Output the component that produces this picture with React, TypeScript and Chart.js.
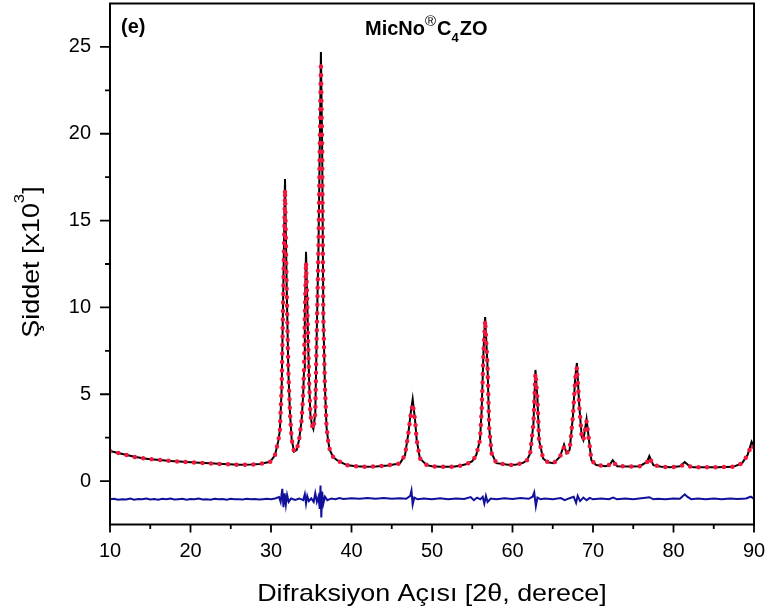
import React, { useEffect, useRef } from 'react';
import { Chart, registerables } from 'chart.js';

Chart.register(...registerables);

// 2θ (degree) vs intensity (x10^3)
const observed: [number, number][] = [
  [10, 1.73], [11, 1.62], [12.1, 1.5], [13, 1.4], [14.1, 1.31], [15, 1.26], [16.2, 1.21], [17.5, 1.16],
  [19.1, 1.11], [20.5, 1.07], [22.4, 1.02], [24, 0.98], [26.1, 0.94], [27.5, 0.95], [28.6, 0.98], [29.9, 1.11],
  [30.5, 1.5], [30.9, 2.3], [31.1, 2.9], [31.33, 5.4], [31.53, 11.2], [31.74, 17.4], [31.95, 11.2], [32.15, 6.4],
  [32.36, 3.9], [32.57, 2.4], [32.86, 1.7], [33.2, 1.8], [33.5, 2.4], [33.8, 3.5], [34.0, 5.0], [34.1, 6.4],
  [34.2, 9.5], [34.35, 13.2], [34.5, 10.5], [34.6, 8.2], [34.75, 5.5], [34.9, 3.8], [35.1, 3.2], [35.26, 3.0],
  [35.5, 3.9], [35.7, 8.9], [35.9, 13.5], [36.05, 19.0], [36.2, 24.7], [36.35, 19.5], [36.5, 9.5], [36.7, 5.4],
  [36.9, 3.1], [37.1, 2.3], [37.3, 1.8], [37.7, 1.4], [38.2, 1.2], [39.4, 0.92], [40.5, 0.86], [41.9, 0.82],
  [43, 0.84], [44.5, 0.9], [45.6, 0.98], [46.02, 1.02], [46.65, 1.5], [47.06, 2.75], [47.35, 3.9], [47.6, 4.72],
  [47.9, 3.5], [48.1, 2.36], [48.5, 1.3], [49.35, 0.92], [50, 0.86], [51, 0.82], [52.6, 0.82], [53.5, 0.88],
  [54.3, 0.98], [55, 1.15], [55.5, 1.5], [55.96, 2.36], [56.17, 4.1], [56.4, 7.5], [56.6, 9.45], [56.9, 6.6],
  [57.1, 3.1], [57.4, 1.6], [58, 1.03], [59.7, 0.92], [60.5, 0.95], [61.3, 1.05], [61.8, 1.2], [62.2, 1.6],
  [62.6, 3.3], [62.85, 6.4], [63.1, 4.7], [63.3, 2.36], [63.8, 1.3], [64.4, 1.08], [65.1, 1.03], [65.9, 1.4],
  [66.4, 2.1], [66.7, 1.6], [67.1, 1.8], [67.5, 3.7], [67.8, 6.0], [68.0, 6.8], [68.3, 4.3], [68.6, 2.55],
  [68.8, 2.36], [69.2, 3.57], [69.5, 2.36], [69.8, 1.2], [70.4, 0.92], [71.6, 0.86], [72.1, 0.95], [72.45, 1.2],
  [73, 0.86], [74.5, 0.84], [75.8, 0.86], [76.7, 1.1], [77, 1.44], [77.5, 0.92], [78.5, 0.82], [79.6, 0.79],
  [80.8, 0.85], [81.4, 1.1], [82, 0.85], [82.5, 0.79], [84, 0.8], [85.5, 0.8], [87.4, 0.82], [88.5, 1.02],
  [89.2, 1.5], [89.7, 2.26], [90, 1.97],
];

const calculated: [number, number][] = [
  [10, 1.73], [11, 1.62], [12.1, 1.5], [13, 1.4], [14.1, 1.31], [15, 1.26], [16.2, 1.21], [17.5, 1.16],
  [19.1, 1.11], [20.5, 1.07], [22.4, 1.02], [24, 0.98], [26.1, 0.94], [27.5, 0.95], [28.6, 0.98], [29.9, 1.11],
  [30.5, 1.5], [30.9, 2.3], [31.1, 2.9], [31.33, 5.4], [31.53, 11.0], [31.74, 16.8], [31.95, 11.0], [32.15, 6.4],
  [32.36, 3.9], [32.57, 2.4], [32.86, 1.7], [33.2, 1.8], [33.5, 2.4], [33.8, 3.5], [34.0, 5.0], [34.1, 6.4],
  [34.2, 9.4], [34.35, 12.6], [34.5, 10.4], [34.6, 8.2], [34.75, 5.5], [34.9, 3.8], [35.1, 3.2], [35.26, 3.0],
  [35.5, 3.9], [35.7, 8.9], [35.9, 13.5], [36.05, 18.9], [36.2, 24.1], [36.35, 19.4], [36.5, 9.5], [36.7, 5.4],
  [36.9, 3.1], [37.1, 2.3], [37.3, 1.8], [37.7, 1.4], [38.2, 1.2], [39.4, 0.92], [40.5, 0.86], [41.9, 0.82],
  [43, 0.84], [44.5, 0.9], [45.6, 0.98], [46.02, 1.02], [46.65, 1.5], [47.06, 2.75], [47.35, 3.8], [47.6, 4.45],
  [47.9, 3.5], [48.1, 2.36], [48.5, 1.3], [49.35, 0.92], [50, 0.86], [51, 0.82], [52.6, 0.82], [53.5, 0.88],
  [54.3, 0.98], [55, 1.15], [55.5, 1.5], [55.96, 2.36], [56.17, 4.1], [56.4, 7.4], [56.6, 9.25], [56.9, 6.6],
  [57.1, 3.1], [57.4, 1.6], [58, 1.03], [59.7, 0.92], [60.5, 0.95], [61.3, 1.05], [61.8, 1.2], [62.2, 1.6],
  [62.6, 3.3], [62.85, 6.2], [63.1, 4.7], [63.3, 2.36], [63.8, 1.3], [64.4, 1.08], [65.1, 1.03], [65.9, 1.4],
  [66.4, 1.95], [66.7, 1.6], [67.1, 1.8], [67.5, 3.7], [67.8, 5.9], [68.0, 6.55], [68.3, 4.3], [68.6, 2.55],
  [68.8, 2.36], [69.2, 3.45], [69.5, 2.36], [69.8, 1.2], [70.4, 0.92], [71.6, 0.86], [72.1, 0.95], [72.45, 1.12],
  [73, 0.86], [74.5, 0.84], [75.8, 0.86], [76.7, 1.08], [77, 1.35], [77.5, 0.92], [78.5, 0.82], [79.6, 0.79],
  [80.8, 0.85], [81.4, 0.95], [82, 0.85], [82.5, 0.79], [84, 0.8], [85.5, 0.8], [87.4, 0.82], [88.5, 1.02],
  [89.2, 1.5], [89.7, 2.1], [90, 1.9],
];

const difference: [number, number][] = [
  [10, -1.05], [10.5, -1.02], [11, -1.08], [11.5, -1.04], [12, -1.06], [12.5, -1.01], [13, -1.07], [13.5, -1.03],
  [14, -1.05], [14.5, -1.0], [15, -1.06], [15.5, -1.03], [16, -1.07], [16.5, -1.02], [17, -1.05], [17.5, -1.01],
  [18, -1.06], [18.5, -1.04], [19, -1.02], [19.5, -1.07], [20, -1.03], [20.5, -1.05], [21, -1.0], [21.5, -1.06],
  [22, -1.04], [22.5, -1.07], [23, -1.02], [23.5, -1.05], [24, -1.03], [24.5, -1.07], [25, -1.02], [25.5, -1.05],
  [26, -1.04], [26.5, -1.06], [27, -1.02], [27.5, -1.05], [28, -1.03], [28.5, -1.06], [29, -1.04], [29.5, -1.02],
  [30, -1.05], [30.5, -1.0], [31, -0.92], [31.2, -1.2], [31.4, -0.45], [31.55, -1.5], [31.7, -0.7], [31.85, -1.35],
  [32.0, -0.8], [32.2, -1.2], [32.5, -1.0], [33, -1.08], [33.5, -1.0], [34.0, -1.1], [34.2, -0.75], [34.35, -1.3],
  [34.5, -0.85], [34.7, -1.15], [35.0, -1.0], [35.3, -1.2], [35.5, -0.7], [35.7, -1.2], [35.9, -0.9], [36.05, -1.6],
  [36.15, -0.25], [36.25, -2.1], [36.35, -0.6], [36.5, -1.3], [36.7, -0.9], [37.0, -1.1], [37.5, -1.0], [38, -1.04],
  [38.5, -0.98], [39, -1.03], [40, -0.99], [41, -1.02], [42, -0.97], [43, -1.01], [44, -0.98], [45, -1.02],
  [46, -0.99], [46.8, -1.02], [47.3, -0.85], [47.45, -0.55], [47.6, -1.35], [47.8, -0.95], [48.2, -1.05], [49, -1.0],
  [50, -1.04], [51, -0.99], [52, -1.05], [53, -1.0], [54, -1.03], [54.8, -0.92], [55.2, -1.1], [55.6, -0.95],
  [56.0, -1.05], [56.3, -0.9], [56.5, -1.3], [56.7, -0.85], [56.9, -1.2], [57.3, -1.0], [58, -1.04], [59, -0.99],
  [60, -1.03], [61, -0.98], [62, -1.02], [62.5, -0.9], [62.7, -0.65], [62.9, -1.45], [63.1, -0.95], [63.5, -1.05],
  [64, -1.0], [65, -1.04], [66, -0.98], [66.5, -1.1], [67, -1.0], [67.6, -0.9], [67.9, -1.25], [68.1, -0.85],
  [68.4, -1.15], [68.8, -0.95], [69.2, -1.1], [69.6, -0.97], [70, -1.05], [71, -1.0], [72, -1.04], [72.5, -0.95],
  [73, -1.05], [74, -1.0], [75, -1.04], [76, -0.99], [77, -0.93], [77.5, -1.05], [78, -1.02], [79, -1.05],
  [80, -1.0], [80.8, -1.02], [81.2, -0.85], [81.4, -0.76], [81.7, -0.9], [82.2, -1.04], [83, -1.0], [84, -1.05],
  [85, -1.01], [86, -1.04], [87, -1.0], [88, -1.03], [89, -1.0], [89.6, -0.9], [90, -1.02],
];

const xMajorTicks = [10, 20, 30, 40, 50, 60, 70, 80, 90];
const xMinorTicks = [15, 25, 35, 45, 55, 65, 75, 85];
const yMajorTicks = [0, 5, 10, 15, 20, 25];
const yMinorTicks = [2.5, 7.5, 12.5, 17.5, 22.5];

const panelLabel = '(e)';
const sampleName = ['MicNo', '®', 'C', '4', 'ZO'];
const xTitle = 'Difraksiyon Açısı [2θ, derece]';
const yTitle = ['Şiddet [x10', '3', ']'];

const FAMILY = "'Liberation Sans', Arial, sans-serif";

const framePlugin = {
  id: 'framePlugin',
  afterDraw(chart: any) {
    const { ctx, chartArea, scales } = chart;
    const { left, right, top, bottom } = chartArea;
    const xs = scales.x;
    const ys = scales.y;
    ctx.save();
    ctx.strokeStyle = '#000';
    ctx.lineWidth = 2;
    ctx.strokeRect(left, top, right - left, bottom - top);

    ctx.lineWidth = 1.8;
    ctx.beginPath();
    for (const v of xMajorTicks) {
      const px = xs.getPixelForValue(v);
      ctx.moveTo(px, bottom);
      ctx.lineTo(px, bottom + 8);
    }
    for (const v of xMinorTicks) {
      const px = xs.getPixelForValue(v);
      ctx.moveTo(px, bottom);
      ctx.lineTo(px, bottom + 4.5);
    }
    for (const v of yMajorTicks) {
      const py = ys.getPixelForValue(v);
      ctx.moveTo(left, py);
      ctx.lineTo(left - 10, py);
    }
    for (const v of yMinorTicks) {
      const py = ys.getPixelForValue(v);
      ctx.moveTo(left, py);
      ctx.lineTo(left - 5, py);
    }
    ctx.stroke();

    ctx.fillStyle = '#000';
    ctx.textAlign = 'left';
    ctx.textBaseline = 'alphabetic';

    // panel label
    ctx.font = `bold 20px ${FAMILY}`;
    ctx.fillText(panelLabel, left + 11, 33);

    // sample name with superscript/subscript
    let cx = 365;
    ctx.font = `bold 20px ${FAMILY}`;
    ctx.fillText(sampleName[0], cx, 35);
    cx += ctx.measureText(sampleName[0]).width;
    ctx.font = `15px ${FAMILY}`;
    ctx.fillText(sampleName[1], cx, 25.5);
    cx += ctx.measureText(sampleName[1]).width + 1;
    ctx.font = `bold 20px ${FAMILY}`;
    ctx.fillText(sampleName[2], cx, 35);
    cx += ctx.measureText(sampleName[2]).width;
    ctx.font = `bold 13px ${FAMILY}`;
    ctx.fillText(sampleName[3], cx, 41.5);
    cx += ctx.measureText(sampleName[3]).width + 1;
    ctx.font = `bold 20px ${FAMILY}`;
    ctx.fillText(sampleName[4], cx, 35);

    // x title
    ctx.save();
    ctx.translate((left + right) / 2, 601);
    ctx.scale(1.12, 1);
    ctx.font = `24px ${FAMILY}`;
    ctx.textAlign = 'center';
    ctx.fillText(xTitle, 0, 0);
    ctx.restore();

    // y title
    ctx.save();
    ctx.translate(39, (top + bottom) / 2 - 2);
    ctx.rotate(-Math.PI / 2);
    ctx.scale(1.12, 1);
    ctx.font = `24px ${FAMILY}`;
    const w1 = ctx.measureText(yTitle[0]).width;
    const w3 = ctx.measureText(yTitle[2]).width;
    ctx.font = `15px ${FAMILY}`;
    const w2 = ctx.measureText(yTitle[1]).width;
    let sx = -(w1 + w2 + w3) / 2;
    ctx.font = `24px ${FAMILY}`;
    ctx.fillText(yTitle[0], sx, 0);
    sx += w1;
    ctx.font = `15px ${FAMILY}`;
    ctx.fillText(yTitle[1], sx, -15);
    sx += w2;
    ctx.font = `24px ${FAMILY}`;
    ctx.fillText(yTitle[2], sx, 0);
    ctx.restore();

    ctx.restore();
  },
};

export default function App() {
  const ref = useRef<HTMLCanvasElement>(null);

  useEffect(() => {
    document.body.style.margin = '0';
    const canvas = ref.current;
    if (!canvas) return;
    const toXY = (arr: [number, number][]) => arr.map(([x, y]) => ({ x, y }));
    const chart = new Chart(canvas, {
      type: 'line',
      data: {
        datasets: [
          {
            label: 'Hesaplanan',
            data: toXY(calculated),
            borderColor: '#f2163c',
            borderWidth: 4.5,
            borderDash: [0, 8.5],
            borderCapStyle: 'round',
            pointRadius: 0,
            fill: false,
            tension: 0,
            order: 0,
          },
          {
            label: 'Gözlenen',
            data: toXY(observed),
            borderColor: '#000000',
            borderWidth: 2,
            pointRadius: 0,
            fill: false,
            tension: 0,
            order: 1,
          },
          {
            label: 'Fark',
            data: toXY(difference),
            borderColor: '#10109c',
            borderWidth: 2,
            pointRadius: 0,
            fill: false,
            tension: 0,
            order: 2,
          },
        ],
      },
      options: {
        responsive: false,
        animation: false,
        events: [],
        layout: { padding: { top: 3.5, right: 15, left: 0, bottom: 0 } },
        plugins: {
          legend: { display: false },
          tooltip: { enabled: false },
        },
        scales: {
          x: {
            type: 'linear',
            min: 10,
            max: 90,
            afterFit: (s: any) => {
              s.height = 91.5;
              s.paddingLeft = 0;
              s.paddingRight = 0;
              s.paddingTop = 0;
              s.paddingBottom = 0;
            },
            afterBuildTicks: (s: any) => {
              s.ticks = xMajorTicks.map((v) => ({ value: v }));
            },
            grid: { display: false, drawTicks: false },
            border: { display: false },
            ticks: {
              padding: 14.5,
              color: '#000',
              maxRotation: 0,
              autoSkip: false,
              font: { family: FAMILY, size: 20 },
            },
          },
          y: {
            type: 'linear',
            min: -2.5,
            max: 27.5,
            afterFit: (s: any) => {
              s.width = 110;
              s.paddingLeft = 0;
              s.paddingRight = 0;
              s.paddingTop = 0;
              s.paddingBottom = 0;
            },
            afterBuildTicks: (s: any) => {
              s.ticks = yMajorTicks.map((v) => ({ value: v }));
            },
            grid: { display: false, drawTicks: false },
            border: { display: false },
            ticks: {
              padding: 19,
              color: '#000',
              autoSkip: false,
              font: { family: FAMILY, size: 20 },
            },
          },
        },
      },
      plugins: [framePlugin],
    } as any);
    return () => chart.destroy();
  }, []);

  return <canvas ref={ref} width={769} height={616} style={{ display: 'block' }} />;
}
